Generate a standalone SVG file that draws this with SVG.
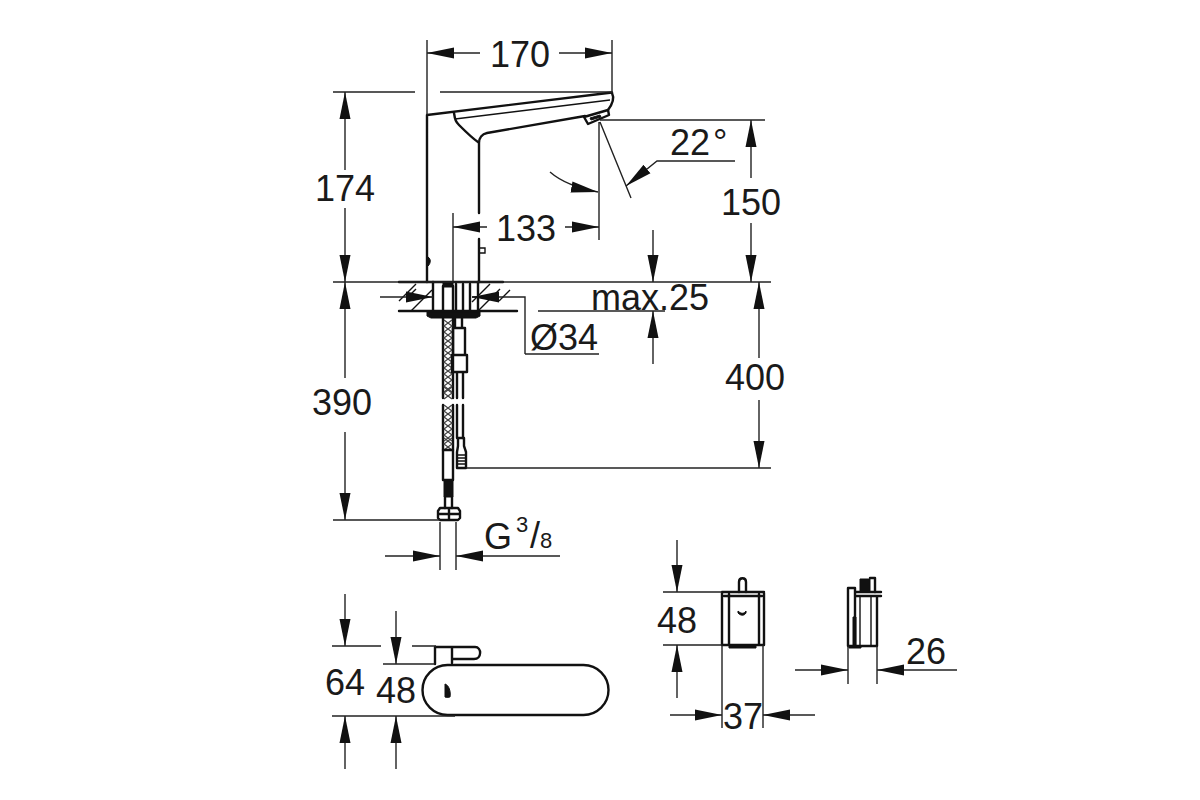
<svg xmlns="http://www.w3.org/2000/svg" width="1200" height="800" viewBox="0 0 1200 800">
<style>
text{font-family:"Liberation Sans",Arial,sans-serif;font-size:36px;fill:#1a1a1a}
.m{text-anchor:middle}
.d{stroke:#222;stroke-width:1.4;fill:none}
.a{stroke:#222;stroke-width:1.4;fill:none;marker-end:url(#ah)}
.o{stroke:#111;stroke-width:2.4;fill:none;stroke-linecap:round;stroke-linejoin:round}
.t{stroke:#111;stroke-width:1.4;fill:none}
.f{fill:#111;stroke:#111;stroke-width:1}
</style>
<defs>
<marker id="ah" markerUnits="userSpaceOnUse" markerWidth="30" markerHeight="14" refX="27" refY="6" orient="auto"><path d="M0,0.500L27,6L0,11.500Z" fill="#111"/></marker>
<path id="zz" d="M444,0L452,6L444,12M452,0L444,6L452,12" fill="none" stroke="#444" stroke-width="1.2"/>
</defs>
<rect width="1200" height="800" fill="#fff"/>
<g id="faucet">
<path class="o" d="M427,282V115L612,92.500M479,282V239M479,213V143C479,138 482,134 487,133L585,116"/>
<path class="o" d="M612,93C614,97 614,102 608,110"/>
<path class="o" d="M454,113C455,120 456,122 459,125C466,132 472,138 478,142"/>
<path class="t" d="M455,119L610,100"/>
<path class="o" d="M584,117L608,110L609,115L588,124Z"/>
<path class="f" d="M590,118L600,115L601,117L591,120Z"/>
<path class="t" d="M480,248H485V253H480"/>
<path class="f" d="M428,257C431,259 431,263 428,266Z"/>
</g>
<g id="mount">
<path class="o" d="M399,282H503M399,311H517"/>
<path class="t" d="M399,301l17,-17M411,311l21,-21M416,289l-8,8M472,302l18,-18M478,311l22,-22M499,301l11,-11"/>
<path class="o" d="M433,282V311M443,286V311M453,286V311M456,284V311M463,284V311M470,284V311M478,282V311"/>
<path class="f" d="M443,283H453V287H443Z"/>
<path class="f" d="M427,312H480V316L476,318H431L427,316Z"/>
</g>
<g id="hose">
<path class="o" d="M443,318V398M453,318V398M443,405V450M453,405V450"/>
<use href="#zz" y="320"/><use href="#zz" y="332"/><use href="#zz" y="344"/><use href="#zz" y="356"/><use href="#zz" y="368"/><use href="#zz" y="380"/><use href="#zz" y="387"/>
<use href="#zz" y="405"/><use href="#zz" y="417"/><use href="#zz" y="429"/><use href="#zz" y="438"/>
<path class="o" d="M443,450H453V480H443ZM445,497V508M452,497V508"/>
<path class="f" d="M444,481H453V497H444Z"/>
<path class="o" d="M440,508H458L460,511V518L458,520H440L438,518V511ZM449,508V520M438,514H460"/>
</g>
<g id="cable">
<path class="o" d="M455,318V328H462V318M453,328H465V355H453ZM452,355H467V372H452ZM457,372V398M463,372V398M457,405V438M463,405V438"/>
<path class="o" d="M458,438H464V446L466,452V468H457V452L458,446Z"/>
<path class="t" d="M457,455H466M457,458H466M457,461H466M457,464H466"/>
</g>
<g id="plan-view">
<rect class="o" x="422.500" y="665" width="186" height="50" rx="25" ry="25"/>
<path class="f" d="M445,684C449,685 451,692 450,697C449,697 447,698 445,697Z"/>
<path class="o" d="M435,664V647H475C482,647 482,659 474,659H453M452,647V663"/>
</g>
<g id="box-front">
<path class="o" d="M722,592H764M722,593V645H764V593M729,594V645M759,594V645"/>
<path class="o" d="M739,592V582C739,577 746,577 746,582V592M724,596H762"/>
<path class="f" d="M729,646H756V648H729Z"/>
<path class="f" d="M738,611C741,614 744,614 746,611L746,613C744,616 741,616 738,613Z"/>
</g>
<g id="box-side">
<path class="o" d="M848,588H855V646H848ZM855,646H877V596M855,596H881M855,592H881"/>
<path class="t" d="M860,596V646M871,596V646"/>
<path class="f" d="M853,617H856V646H861V648H849V646H853ZM860,579H870V592H860Z"/>
<path class="o" d="M870,578H875V592"/>
</g>
<g id="connectors">
<path class="d" d="M427,40V115M612,40V93M333,92H415M440,92H612"/>
<path class="a" d="M480,53H427"/><path class="a" d="M559,53H612"/>
<path class="a" d="M345,170V92"/><path class="a" d="M345,208V282"/>
<path class="d" d="M333,282H771"/>
<path class="d" d="M600,120H765"/>
<path class="a" d="M751,178V120"/><path class="a" d="M751,223V282"/>
<path class="d" d="M453,213V282M599,122V240M600,122L631,198"/>
<path class="a" d="M487,227H453"/><path class="a" d="M565,227H599"/>
<path class="a" d="M735,161H657L626,186"/>
<path class="a" d="M550,172Q566,186 598,192"/>
<path class="a" d="M653,230V282"/>
<path class="a" d="M653,364V311"/>
<path class="d" d="M538,311H665"/>
<path class="a" d="M380,297H433"/>
<path class="d" d="M525,354V297H472"/><path class="a" d="M497,297H472"/>
<path class="d" d="M525,354H599"/>
<path class="a" d="M759,358V282"/><path class="a" d="M759,400V468"/>
<path class="d" d="M466,468H771"/>
<path class="a" d="M345,378V282"/><path class="a" d="M345,432V520"/>
<path class="d" d="M333,520H440M440,522V570M456,522V570"/>
<path class="a" d="M385,556H440"/><path class="a" d="M560,556H456"/>
<path class="a" d="M345,594V646"/><path class="d" d="M332,646H381M412,646H436"/>
<path class="a" d="M396,611V664"/><path class="d" d="M383,664H435"/>
<path class="d" d="M332,716H455"/>
<path class="a" d="M345,769V716"/><path class="a" d="M396,769V716"/>
<path class="a" d="M677,540V592"/><path class="d" d="M663,592H722M663,645H722"/>
<path class="a" d="M677,698V645"/>
<path class="d" d="M722,645V728M763,645V728"/>
<path class="a" d="M670,715H722"/><path class="a" d="M815,715H763"/>
<path class="d" d="M848,646V684M877,646V684"/>
<path class="a" d="M795,670H848"/><path class="a" d="M957,670H877"/>
</g>
<g id="labels">
<text class="m" x="520" y="67">170</text>
<text class="m" x="345" y="201">174</text>
<text x="670" y="155">22</text>
<text x="713" y="155">°</text>
<text class="m" x="526" y="241">133</text>
<text class="m" x="751" y="215">150</text>
<text x="591" y="310">max.25</text>
<text x="530" y="350">Ø34</text>
<text class="m" x="755" y="390">400</text>
<text class="m" x="342" y="415">390</text>
<text x="484" y="549">G</text>
<text x="516" y="532" style="font-size:22px">3</text>
<text x="530" y="548">/</text>
<text x="540" y="548" style="font-size:22px">8</text>
<text class="m" x="345" y="695">64</text>
<text class="m" x="396" y="703">48</text>
<text class="m" x="677" y="633">48</text>
<text class="m" x="743" y="729">37</text>
<text x="906" y="664">26</text>
</g>
</svg>
